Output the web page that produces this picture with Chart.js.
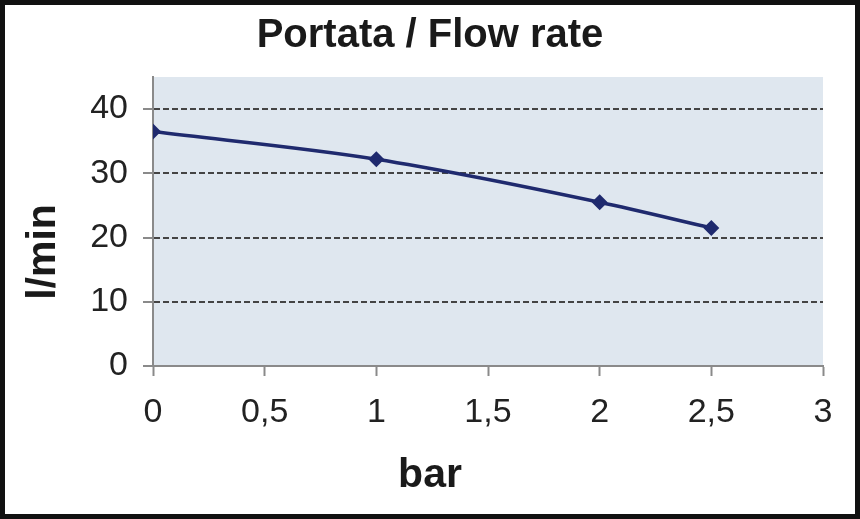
<!DOCTYPE html>
<html>
<head>
<meta charset="utf-8">
<script src="https://cdn.jsdelivr.net/npm/chart.js@4.4.1/dist/chart.umd.min.js"></script>
<style>
  html, body { margin: 0; padding: 0; background: #fff; }
  canvas { display: block; }
</style>
</head>
<body>
<canvas id="grafico-portata" width="860" height="519"></canvas>
<script>
// Dati
const pressioneBar = [0, 1, 2, 2.5];
const portataLmin = [36.5, 32.2, 25.5, 21.5];
const tickX = [0, 0.5, 1, 1.5, 2, 2.5, 3];
const tickY = [0, 10, 20, 30, 40];

const fontTesto = "'Liberation Sans', Arial, sans-serif";

// sfondo dell'area del grafico, cornice nera, titolo e titoli degli assi
const sfondoPlugin = {
    id: 'sfondo',
    beforeDraw(chart) {
        const c = chart.ctx;
        const a = chart.chartArea;
        c.save();
        c.fillStyle = '#fff';
        c.fillRect(0, 0, chart.width, chart.height);
        c.fillStyle = '#dfe7ef';
        c.fillRect(a.left, a.top, a.right - a.left, a.bottom - a.top);
        c.restore();
    },
    afterDraw(chart) {
        const c = chart.ctx;
        c.save();
        c.strokeStyle = '#111';
        c.lineWidth = 5;
        c.strokeRect(2.5, 2.5, chart.width - 5, chart.height - 5);
        c.fillStyle = '#1a1a1a';
        c.textAlign = 'center';
        c.textBaseline = 'alphabetic';
        c.font = 'bold 40px ' + fontTesto;
        c.fillText('Portata / Flow rate', 430, 47);
        c.font = 'bold 41px ' + fontTesto;
        c.fillText('bar', 430, 487);
        c.translate(55, 252);
        c.rotate(-Math.PI / 2);
        c.fillText('l/min', 0, 0);
        c.restore();
    }
};

const ctx = document.getElementById('grafico-portata').getContext('2d');
const graficoPortata = new Chart(ctx, {
    type: 'line',
    data: {
        datasets: [{
            label: 'Portata',
            data: pressioneBar.map((p, i) => ({ x: p, y: portataLmin[i] })),
            borderColor: '#1f2a6e',
            backgroundColor: '#1f2a6e',
            borderWidth: 3.5,
            pointStyle: 'rectRot',
            pointRadius: 5.5,
            cubicInterpolationMode: 'monotone',
            fill: false
        }]
    },
    options: {
        responsive: false,
        animation: false,
        layout: { padding: { left: 0, right: 37, top: 77, bottom: 0 } },
        plugins: {
            legend: { display: false },
            tooltip: { enabled: false },
            title: { display: false }
        },
        scales: {
            x: {
                type: 'linear',
                min: 0,
                max: 3,
                afterBuildTicks: s => { s.ticks = tickX.map(v => ({ value: v })); },
                afterFit: s => { s.height = 153; },
                grid: { drawOnChartArea: false, tickLength: 10, tickColor: '#8a8a8a', tickWidth: 2 },
                border: { color: '#8a8a8a', width: 2 },
                ticks: {
                    color: '#222',
                    font: { family: fontTesto, size: 34 },
                    padding: 16,
                    maxRotation: 0,
                    autoSkip: false,
                    callback: v => String(v).replace('.', ',')
                }
            },
            y: {
                type: 'linear',
                min: 0,
                max: 45,
                afterBuildTicks: s => { s.ticks = tickY.map(v => ({ value: v })); },
                afterFit: s => { s.width = 153; },
                grid: {
                    color: c => c.tick && c.tick.value === 0 ? 'rgba(0,0,0,0)' : '#444',
                    lineWidth: 2,
                    tickLength: 10,
                    tickColor: '#8a8a8a',
                    tickWidth: 2
                },
                border: { color: '#8a8a8a', width: 2, dash: [6, 3] },
                ticks: {
                    color: '#222',
                    font: { family: fontTesto, size: 34 },
                    padding: 15
                }
            }
        }
    },
    plugins: [sfondoPlugin]
});
</script>
</body>
</html>
